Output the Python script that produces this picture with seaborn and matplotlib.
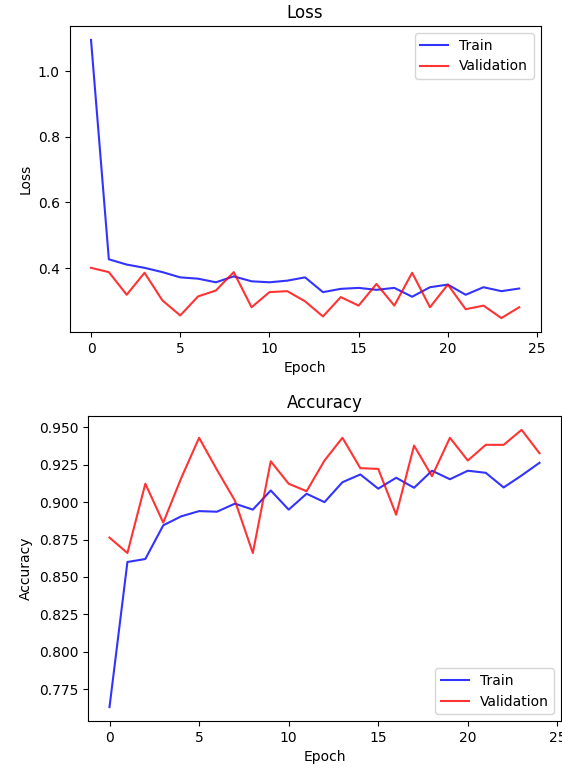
import numpy as np
import matplotlib
matplotlib.use("Agg")
import matplotlib.pyplot as plt
import seaborn as sns

epochs = list(range(25))
train_loss = [1.095, 0.427, 0.411, 0.401, 0.388, 0.372, 0.368, 0.357, 0.375, 0.360,
              0.357, 0.362, 0.372, 0.327, 0.337, 0.340, 0.334, 0.340, 0.313, 0.342,
              0.350, 0.319, 0.342, 0.330, 0.338]
val_loss = [0.401, 0.388, 0.319, 0.386, 0.302, 0.256, 0.314, 0.332, 0.388, 0.281,
            0.327, 0.330, 0.299, 0.253, 0.312, 0.286, 0.352, 0.286, 0.386, 0.281,
            0.350, 0.275, 0.286, 0.248, 0.281]
train_acc = [0.763, 0.860, 0.862, 0.8845, 0.8905, 0.894, 0.8936, 0.899, 0.895, 0.9078,
             0.895, 0.9056, 0.900, 0.9133, 0.9185, 0.909, 0.9163, 0.9096, 0.921, 0.9153,
             0.921, 0.9196, 0.9098, 0.9178, 0.9263]
val_acc = [0.8763, 0.866, 0.9123, 0.8863, 0.916, 0.943, 0.9215, 0.901, 0.866, 0.9273,
           0.9123, 0.9073, 0.9278, 0.943, 0.9227, 0.9222, 0.8916, 0.9378, 0.9173, 0.943,
           0.9278, 0.9383, 0.9383, 0.9483, 0.9327]

W, H = 562, 768
fig = plt.figure(figsize=(W / 100, H / 100), dpi=100)

ax1 = fig.add_axes([69.6 / W, (H - 332) / H, 471 / W, (332 - 26) / H])
ax2 = fig.add_axes([88 / W, (H - 721) / H, 473 / W, (721 - 416) / H])

def draw(ax, tr, va, title, ylabel, loc):
    sns.lineplot(x=epochs, y=tr, ax=ax, color="blue", alpha=0.8, label="Train")
    sns.lineplot(x=epochs, y=va, ax=ax, color="red", alpha=0.8, label="Validation")
    ax.set_title(title, fontsize=12)
    ax.set_xlabel("Epoch")
    ax.set_ylabel(ylabel)
    ax.legend(loc=loc)

draw(ax1, train_loss, val_loss, "Loss", "Loss", "upper right")
draw(ax2, train_acc, val_acc, "Accuracy", "Accuracy", "lower right")
ax1.set_xticks([0, 5, 10, 15, 20, 25])
ax2.set_xticks([0, 5, 10, 15, 20, 25])

fig.savefig("out.png", dpi=100)
